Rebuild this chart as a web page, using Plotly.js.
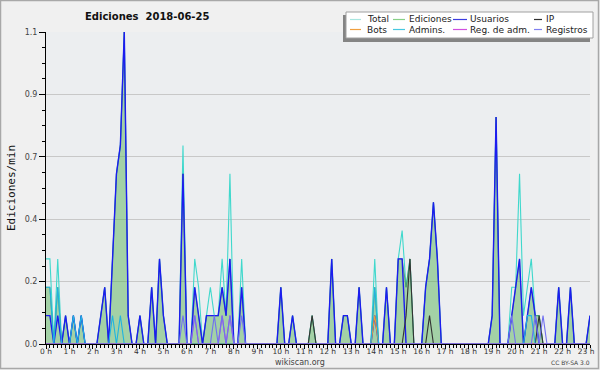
<!DOCTYPE html>
<html><head><meta charset="utf-8">
<script src="https://cdn.plot.ly/plotly-3.0.1.min.js"></script>
<style>html,body{margin:0;padding:0;background:#f0f0f0;}#chart{width:600px;height:370px;}</style>
</head><body><div id="chart"></div>
<script>
// 10-minute bins, values in edits per minute (2018-06-25, 00:00 .. 23:10)
const binMinutes = 10;
const total = [
 .3,.3,0,.3,0,.1,0,.1,0,.1,
 0,0,0,0,.1,.2,0,.3,.6,.7,
 1.1,.1,0,0,.1,0,0,.2,0,.3,
 .1,0,0,0,0,.7,0,0,.3,.2,
 0,.1,.2,.1,.1,.3,.1,.6,0,0,
 .3,0,0,0,0,0,0,0,0,0,
 .2,0,0,.1,0,0,0,0,.1,0,
 0,0,0,.3,0,0,.1,.1,0,0,
 .2,0,0,0,.3,0,0,.2,0,0,
 .3,.4,.2,.3,0,0,0,.2,.3,.5,
 .3,0,0,0,0,0,0,0,0,0,
 0,0,0,0,.1,.8,0,0,0,.2,
 .2,.6,.1,.2,.3,.1,.1,0,0,0,
 0,.2,0,0,.2,0,0,0,0,.1];
const ediciones = [
 .2,.2,0,.2,0,.1,0,.1,0,.1,
 0,0,0,0,.1,.2,0,.3,.6,.7,
 1.1,.1,0,0,.1,0,0,.2,0,.3,
 .1,0,0,0,0,.6,0,0,.2,.1,
 0,.1,.1,.1,.1,.2,.1,.3,0,0,
 .2,0,0,0,0,0,0,0,0,0,
 .2,0,0,.1,0,0,0,0,.1,0,
 0,0,0,.3,0,0,.1,.1,0,0,
 .2,0,0,0,.2,0,0,.2,0,0,
 .3,.3,.2,.3,0,0,0,.2,.3,.5,
 .3,0,0,0,0,0,0,0,0,0,
 0,0,0,0,.1,.8,0,0,0,.1,
 .2,.3,0,.1,.2,.1,.1,0,0,0,
 0,.2,0,0,.2,0,0,0,0,.1];
const usuarios = [
 .1,.1,0,.1,0,.1,0,.1,0,.1,
 0,0,0,0,.1,.2,0,.3,.6,.7,
 1.1,.1,0,0,.1,0,0,.2,0,.3,
 .1,0,0,0,0,.6,0,0,.2,.1,
 0,.1,.1,.1,.1,.2,.1,.3,0,0,
 .2,0,0,0,0,0,0,0,0,0,
 .2,0,0,.1,0,0,0,0,0,0,
 0,0,0,.3,0,0,.1,.1,0,0,
 .2,0,0,0,.1,0,0,.2,0,0,
 .3,.3,0,0,0,0,0,.2,.3,.5,
 .3,0,0,0,0,0,0,0,0,0,
 0,0,0,0,.1,.8,0,0,0,.1,
 .2,.3,0,.1,.2,.1,0,0,0,0,
 0,.2,0,0,.2,0,0,0,0,.1];
const ip = [
 0,0,0,0,0,0,0,0,0,0, 0,0,0,0,0,0,0,0,0,0,
 0,0,0,0,0,0,0,0,0,0, 0,0,0,0,0,0,0,0,0,0,
 0,0,0,0,0,0,0,0,0,0, 0,0,0,0,0,0,0,0,0,0,
 0,0,0,0,0,0,0,0,.1,0, 0,0,0,0,0,0,0,0,0,0,
 0,0,0,0,0,0,0,0,0,0, 0,0,.1,.3,0,0,0,0,.1,0,
 0,0,0,0,0,0,0,0,0,0, 0,0,0,0,0,0,0,0,0,0,
 0,0,0,0,0,0,.1,0,0,0, 0,0,0,0,0,0,0,0,0,0];
const bots = [
 0,0,0,0,0,0,0,0,0,0, 0,0,0,0,0,0,0,0,0,0,
 0,0,0,0,0,0,0,0,0,0, 0,0,0,0,0,0,0,0,0,0,
 0,0,0,0,0,0,0,0,0,0, 0,0,0,0,0,0,0,0,0,0,
 0,0,0,0,0,0,0,0,0,0, 0,0,0,0,0,0,0,0,0,0,
 0,0,0,0,.1,0,0,0,0,0, 0,0,0,0,0,0,0,0,0,0,
 0,0,0,0,0,0,0,0,0,0, 0,0,0,0,0,0,0,0,0,0,
 0,0,0,0,0,0,0,0,0,0, 0,0,0,0,0,0,0,0,0,0];
const admins = [
 .2,.2,0,.2,0,0,0,.1,0,.1, 0,0,0,0,0,0,0,.1,0,.1,
 0,0,0,0,0,0,0,0,0,0, 0,0,0,0,0,0,0,0,0,0,
 0,0,0,0,0,0,0,0,0,0, 0,0,0,0,0,0,0,0,0,0,
 0,0,0,0,0,0,0,0,0,0, 0,0,0,0,0,0,0,0,0,0,
 0,0,0,0,.2,0,0,0,0,0, 0,0,0,0,0,0,0,0,0,0,
 0,0,0,0,0,0,0,0,0,0, 0,0,0,0,0,0,0,0,0,0,
 0,0,0,.1,.1,0,0,0,0,0, 0,0,0,0,0,0,0,0,0,0];
const regAdm = [
 0,0,0,0,0,0,0,0,0,0, 0,0,0,0,0,0,0,0,0,0,
 0,0,0,0,0,0,0,0,0,0, 0,0,0,0,0,0,0,0,.1,0,
 0,0,0,0,0,.1,0,.1,0,0, 0,0,0,0,0,0,0,0,0,0,
 0,0,0,0,0,0,0,0,0,0, 0,0,0,0,0,0,0,0,0,0,
 0,0,0,0,0,0,0,0,0,0, 0,0,0,0,0,0,0,0,0,0,
 0,0,0,0,0,0,0,0,0,0, 0,0,0,0,0,0,0,0,0,0,
 0,0,0,0,0,0,0,0,0,0, 0,0,0,0,0,0,0,0,0,0];
const registros = [
 0,0,0,0,0,0,0,0,0,0, 0,0,0,0,0,0,0,0,0,0,
 0,0,0,0,0,0,0,0,0,0, 0,0,0,0,0,.1,0,0,.1,0,
 0,0,0,.1,0,.1,0,.1,0,0, .1,0,0,0,0,0,0,0,0,0,
 0,0,0,0,0,0,0,0,0,0, 0,0,0,0,0,0,0,0,0,0,
 0,0,0,0,0,0,0,0,0,0, 0,0,0,0,0,0,0,0,0,0,
 0,0,0,0,0,0,0,0,0,0, 0,0,0,0,0,0,0,0,0,.1,
 0,0,0,0,0,.1,0,.1,0,0, 0,0,0,0,0,0,0,0,0,0];

const seriesNames = ['Total','Ediciones','Usuarios','IP','Bots','Admins.','Reg. de adm.','Registros'];
const seriesData = [total, ediciones, usuarios, ip, bots, admins, regAdm, registros];
const lineColors = ['#3fd8cc','rgba(70,140,90,0.75)','#1c1cf0','#333333','#f0a030','#20b4e0','#c040e0','#7070f0'];
const legendColors = ['#a8e6e0','#88d088','#3c3ce0','#303030','#f0a040','#48c8e0','#d050e0','#8080f0'];
const yTickVals = [0, 0.22, 0.44, 0.66, 0.88, 1.1];
const yTickText = ['0.0','0.2','0.4','0.7','0.9','1.1'];
const hourTicks = Array.from({length:24}, (_, h) => h);
const hourLabels = hourTicks.map(h => h + ' h');

const times = total.map((_, i) => i * binMinutes / 60);

// pixel helpers for decorations (plot area 46..590 x 32..344)
const L = 46, R = 590, T = 32, B = 344;
const px = x => (x - L) / (R - L);
const py = y => (B - y) / (B - T);

const traces = seriesData.map((d, i) => {
  const t = {x: times, y: d, type: 'scatter', mode: 'lines', name: seriesNames[i],
    line: {color: lineColors[i], width: i === 2 ? 1.4 : 1.1}, hoverinfo: 'skip'};
  if (i === 1) { t.fill = 'tozeroy'; t.fillcolor = 'rgba(75,172,75,0.45)'; t.line.width = 1; }
  return t;
});

const shapes = [
  {type:'rect', xref:'paper', yref:'paper', x0:px(0.5), x1:px(598.5), y0:py(0.5), y1:py(368.5), line:{color:'#a8a8a8', width:1.5}, fillcolor:'rgba(0,0,0,0)', layer:'below'},
  {type:'rect', xref:'paper', yref:'paper', x0:px(343), x1:px(590), y0:py(15), y1:py(42), line:{width:0}, fillcolor:'#848484'},
  {type:'rect', xref:'paper', yref:'paper', x0:px(346), x1:px(593), y0:py(12), y1:py(38), line:{color:'#a0a0a0', width:1}, fillcolor:'#ffffff'}
];
const annotations = [];
const colLine = [[350,361],[393,405],[453,467],[534,542]];
const colText = [366, 408, 469, 545];
const rowY = [19.5, 29.5];
seriesNames.forEach((n, i) => {
  const c = i % 4, r = Math.floor(i / 4);
  shapes.push({type:'line', xref:'paper', yref:'paper', x0:px(colLine[c][0]), x1:px(colLine[c][1]), y0:py(rowY[r]), y1:py(rowY[r]), line:{color:legendColors[i], width:1.2}});
  annotations.push({xref:'paper', yref:'paper', x:px(colText[c]), y:py(rowY[r]), xanchor:'left', yanchor:'middle', showarrow:false, text:n, font:{family:'DejaVu Sans', size:9, color:'#222'}, borderpad:0});
});
annotations.push({xref:'paper', yref:'paper', x:px(11), y:py(188), xanchor:'center', yanchor:'middle', textangle:-90, showarrow:false, text:'Ediciones/min', font:{family:'DejaVu Sans Mono', size:11, color:'#111'}});
annotations.push({xref:'paper', yref:'paper', x:px(300), y:py(362), xanchor:'center', yanchor:'middle', showarrow:false, text:'wikiscan.org', font:{family:'DejaVu Sans', size:8, color:'#444'}});
annotations.push({xref:'paper', yref:'paper', x:px(592), y:py(362), xanchor:'right', yanchor:'middle', showarrow:false, text:'CC BY-SA 3.0', font:{family:'DejaVu Sans', size:6, color:'#444'}});

const layout = {
  width: 600, height: 370,
  margin: {l: L, r: 600 - R, t: T, b: 370 - B, pad: 0},
  paper_bgcolor: '#f0f0f0', plot_bgcolor: '#eceef0',
  showlegend: false,
  font: {family: 'DejaVu Sans', size: 8, color: '#444'},
  title: {text: 'Ediciones\u00a0 2018-06-25', x: 85/600, xanchor: 'left', y: 1 - 16/370, yanchor: 'middle',
          font: {family: 'DejaVu Sans', size: 10, color: '#111', weight: 'bold'}},
  xaxis: {range: [0, times[times.length - 1]], tickmode: 'array', tickvals: hourTicks, ticktext: hourLabels,
          ticks: 'outside', ticklen: 4, tickcolor: '#000', tickwidth: 1, ticklabelstandoff: -4,
          showline: true, linecolor: '#000', linewidth: 1, showgrid: false, zeroline: false,
          minor: {tickmode: 'linear', tick0: 0, dtick: 1/6, ticklen: 3, tickcolor: '#000', ticks: 'outside', showgrid: false},
          tickfont: {family: 'DejaVu Sans', size: 7.5, color: '#333'}, fixedrange: true},
  yaxis: {range: [0, 1.1], tickmode: 'array', tickvals: yTickVals, ticktext: yTickText,
          ticks: 'outside', ticklen: 6, tickcolor: '#000', tickwidth: 1,
          showline: true, linecolor: '#000', linewidth: 1, showgrid: true, gridcolor: '#c8c8c8', gridwidth: 1, zeroline: false,
          minor: {tickmode: 'linear', tick0: 0, dtick: 0.055, ticklen: 3, tickcolor: '#000', ticks: 'outside', showgrid: false},
          tickfont: {family: 'DejaVu Sans', size: 8, color: '#444'}, fixedrange: true},
  shapes: shapes, annotations: annotations
};
Plotly.newPlot('chart', traces, layout, {displayModeBar: false, staticPlot: true});
</script></body></html>
